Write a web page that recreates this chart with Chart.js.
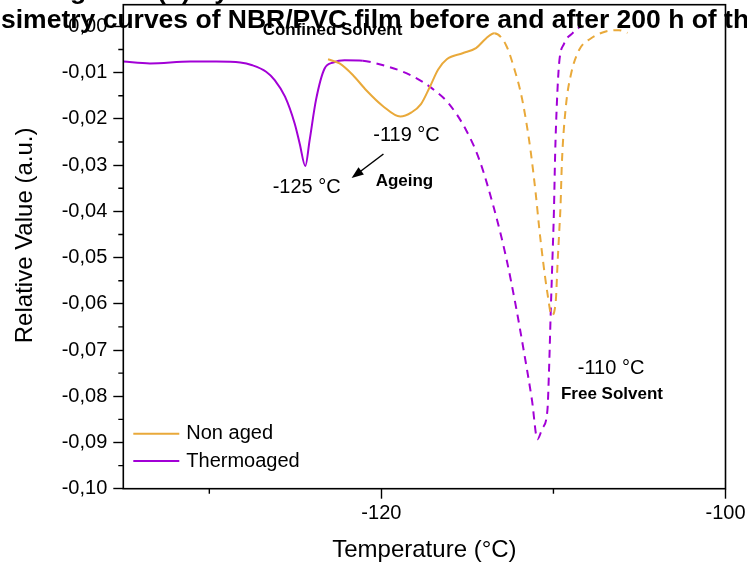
<!DOCTYPE html>
<html><head><meta charset="utf-8">
<script src="https://cdn.jsdelivr.net/npm/chart.js@4.4.0/dist/chart.umd.min.js"></script>
<style>html,body{margin:0;padding:0;background:#fff;overflow:hidden}#wrap{width:747px;height:565px;position:relative}</style>
</head><body><div id="wrap"><canvas id="c"></canvas></div>
<script>
const FONT = 'Arial, "Liberation Sans", sans-serif';

// ---- data ----
const nonAgedX = [-123.1,-122.43,-121.66,-120.88,-119.92,-118.9,-118.25,-117.7,-117.2,-116.7,-116.2,-115.28,-114.5,-113.92,-113.44,
  -112.76,-112.28,-111.89,-111.6,-111.31,-111.02,-110.83,-110.6,-110.35,-110.1,-109.86,-109.77,-109.67,-109.59,-109.51,-109.28,-108.99,-108.51,-107.83,-106.96,-106.19,-105.7];
const nonAgedY = [-0.0071,-0.0080,-0.0105,-0.0138,-0.0172,-0.0195,-0.0186,-0.0168,-0.0132,-0.0093,-0.0071,-0.0058,-0.0047,-0.0026,-0.0015,
  -0.0040,-0.0091,-0.0145,-0.0202,-0.0274,-0.0365,-0.0435,-0.0509,-0.0577,-0.0625,-0.0592,-0.0520,-0.0448,-0.0390,-0.0296,-0.0174,-0.0105,-0.0051,-0.0026,-0.0011,-0.0008,-0.0014];
const thermoX = [-135,-133.45,-131.1,-129.6,-128.2,-127.5,-126.7,-126.2,-125.6,-125.04,-124.75,-124.42,-124.17,-123.8,-123.3,-122.8,-122.14,-121.08,
  -120.3,-118.75,-117.6,-116.82,-116.1,-115.08,-114.3,-113.46,-112.76,-112.18,-111.7,-111.25,-110.93,-110.64,-110.35,-110.25,-110.16,-110.06,-109.97,-109.9,-109.8,-109.67,-109.38,-108.9,-108.5];
const thermoY = [-0.0076,-0.0080,-0.0076,-0.0076,-0.0078,-0.0084,-0.0098,-0.0116,-0.0152,-0.0210,-0.0253,-0.0302,-0.0246,-0.0159,-0.0091,-0.0078,-0.0073,-0.0074,
  -0.0080,-0.0098,-0.0120,-0.0141,-0.0166,-0.0224,-0.0289,-0.0393,-0.0498,-0.0606,-0.0707,-0.0808,-0.0893,-0.0869,-0.0830,-0.0736,-0.0621,-0.0505,-0.0397,-0.0275,-0.0166,-0.0080,-0.0037,-0.0015,-0.0002];
const nonAgedDashFrom = -113.44;
const thermoDashFrom = -121.08;
const seriesLabels = ['Non aged','Thermoaged'];
const xTickValues = [-120, -100];
const xMinorTicks = [-130, -110];
const yTickValues = [0,-0.01,-0.02,-0.03,-0.04,-0.05,-0.06,-0.07,-0.08,-0.09,-0.10];
const yMinorTicks = [-0.005,-0.015,-0.025,-0.035,-0.045,-0.055,-0.065,-0.075,-0.085,-0.095];
const titleLines = ['Figure 9 (b) by', 'Thermoporosimetry curves of NBR/PVC film before and after 200 h of thermal ageing'];
const notes = [
  {text:'Confined Solvent', x:-122.84, y:-0.0008, bold:true},
  {text:'-125 °C', x:-124.34, y:-0.0349, bold:false},
  {text:'-119 °C', x:-118.54, y:-0.0235, bold:false},
  {text:'Ageing', x:-118.66, y:-0.0334, bold:true},
  {text:'-110 °C', x:-106.65, y:-0.0739, bold:false},
  {text:'Free Solvent', x:-106.6, y:-0.0795, bold:true}
];
const arrowFrom = {x:-119.88, y:-0.0276};
const arrowTo = {x:-121.73, y:-0.0328};

const ORANGE = '#E9A93A';
const PURPLE = '#A200D6';
const DASH = [8,6];

const decor = {
  id:'decor',
  afterDraw(chart){
    const {ctx, chartArea:a, scales:{x, y}} = chart;
    ctx.save();
    // frame
    ctx.strokeStyle = '#000'; ctx.lineWidth = 1.6;
    ctx.strokeRect(a.left, a.top, a.right - a.left, a.bottom - a.top);
    // minor ticks
    ctx.lineWidth = 1.4;
    ctx.beginPath();
    xMinorTicks.forEach(v => { const p = x.getPixelForValue(v); ctx.moveTo(p, a.bottom); ctx.lineTo(p, a.bottom + 5); });
    yMinorTicks.forEach(v => { const p = y.getPixelForValue(v); ctx.moveTo(a.left - 5, p); ctx.lineTo(a.left, p); });
    ctx.stroke();
    // notes
    ctx.fillStyle = '#000'; ctx.textAlign = 'center'; ctx.textBaseline = 'middle';
    notes.forEach(n => {
      ctx.font = (n.bold ? 'bold 17px ' : '20px ') + FONT;
      ctx.fillText(n.text, x.getPixelForValue(n.x), y.getPixelForValue(n.y));
    });
    // arrow
    const x1 = x.getPixelForValue(arrowFrom.x), y1 = y.getPixelForValue(arrowFrom.y);
    const x2 = x.getPixelForValue(arrowTo.x), y2 = y.getPixelForValue(arrowTo.y);
    const ang = Math.atan2(y2 - y1, x2 - x1);
    const hl = 12, hw = 4.5;
    ctx.lineWidth = 1.5;
    ctx.beginPath(); ctx.moveTo(x1, y1);
    ctx.lineTo(x2 - Math.cos(ang) * hl * 0.8, y2 - Math.sin(ang) * hl * 0.8); ctx.stroke();
    ctx.beginPath(); ctx.moveTo(x2, y2);
    ctx.lineTo(x2 - Math.cos(ang) * hl + Math.sin(ang) * hw, y2 - Math.sin(ang) * hl - Math.cos(ang) * hw);
    ctx.lineTo(x2 - Math.cos(ang) * hl - Math.sin(ang) * hw, y2 - Math.sin(ang) * hl + Math.cos(ang) * hw);
    ctx.closePath(); ctx.fill();
    // legend
    ctx.textAlign = 'left'; ctx.font = '20px ' + FONT;
    chart.data.datasets.forEach((ds, i) => {
      const ly = a.bottom - 55 + i * 27.3;
      ctx.strokeStyle = ds.borderColor; ctx.lineWidth = 2;
      ctx.beginPath(); ctx.moveTo(a.left + 10, ly); ctx.lineTo(a.left + 56, ly); ctx.stroke();
      ctx.fillStyle = '#000';
      ctx.fillText(ds.label, a.left + 63, ly);
    });
    // y title
    ctx.save();
    ctx.translate(25, 235.4); ctx.rotate(-Math.PI / 2);
    ctx.textAlign = 'center'; ctx.font = '24px ' + FONT;
    ctx.fillText('Relative Value (a.u.)', 0, 0);
    ctx.restore();
    // title (clipped by the canvas edges as in the reference)
    ctx.font = 'bold 26.5px ' + FONT; ctx.textBaseline = 'alphabetic'; ctx.textAlign = 'left';
    const full = titleLines[1];
    const cut = full.indexOf('simetry');
    const pre = ctx.measureText(full.slice(0, cut)).width;
    ctx.fillText(full, 1 - pre, 28);
    const gOff = ctx.measureText('Fi').width;
    ctx.fillText(titleLines[0], 70 - gOff, -1);
    ctx.restore();
  }
};

const mk = (xs, ys) => xs.map((v, i) => ({x: v, y: ys[i]}));

new Chart(document.getElementById('c'), {
  type: 'line',
  data: { datasets: [
    { label: seriesLabels[0], data: mk(nonAgedX, nonAgedY), borderColor: ORANGE, borderWidth: 2, pointRadius: 0, fill: false,
      cubicInterpolationMode: 'monotone',
      segment: { borderDash: c => c.p0.parsed.x >= nonAgedDashFrom - 1e-9 ? DASH : undefined } },
    { label: seriesLabels[1], data: mk(thermoX, thermoY), borderColor: PURPLE, borderWidth: 2, pointRadius: 0, fill: false,
      cubicInterpolationMode: 'monotone',
      segment: { borderDash: c => c.p0.parsed.x >= thermoDashFrom - 1e-9 ? DASH : undefined } }
  ]},
  options: {
    responsive: true, maintainAspectRatio: false, animation: false,
    layout: { padding: { left: 0, right: 21.5, top: 4.7, bottom: 0 } },
    plugins: { legend: { display: false }, tooltip: { enabled: false }, title: { display: false } },
    scales: {
      x: { type: 'linear', min: -135, max: -100,
        afterBuildTicks: s => { s.ticks = xTickValues.map(v => ({value: v})); },
        afterFit: s => { s.height = 76.3; s.paddingLeft = 0; s.paddingRight = 0; },
        ticks: { color: '#000', font: { size: 20, family: FONT }, padding: 3, maxRotation: 0, autoSkip: false },
        grid: { drawOnChartArea: false, tickLength: 10, tickColor: '#000', tickWidth: 1.4 },
        border: { display: false },
        title: { display: true, text: 'Temperature (°C)', color: '#000', font: { size: 24, family: FONT }, padding: { top: 0, bottom: 0 } } },
      y: { type: 'linear', min: -0.10, max: 0.0047,
        afterBuildTicks: s => { s.ticks = yTickValues.map(v => ({value: v})); },
        afterFit: s => { s.width = 123.3; s.paddingTop = 0; s.paddingBottom = 0; },
        ticks: { color: '#000', font: { size: 20, family: FONT }, padding: 6, autoSkip: false,
          callback: v => (Math.abs(v) < 1e-9 ? 0 : v).toFixed(2).replace('.', ',') },
        grid: { drawOnChartArea: false, tickLength: 10, tickColor: '#000', tickWidth: 1.4 },
        border: { display: false } }
    }
  },
  plugins: [decor]
});
</script></body></html>
